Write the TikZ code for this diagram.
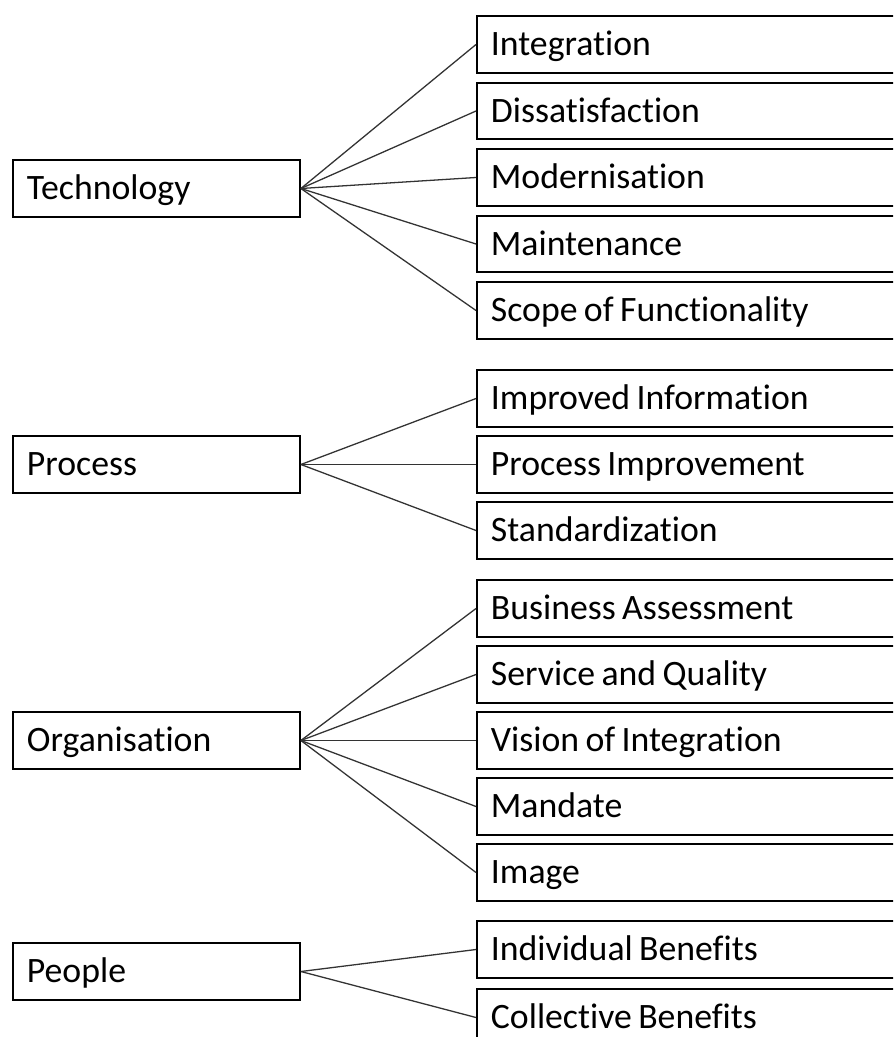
\documentclass[tikz,border=0pt]{standalone}
\usepackage{fontspec}
\setmainfont[Ligatures=NoCommon]{Carlito}
\newcommand\tightspace{\spaceskip=0.18em\relax}

\begin{document}
\begin{tikzpicture}[x=0.03cm, y=-0.03cm,
    every node/.style={font=\fontsize{30.5}{36}\selectfont, text height=0.66cm, text depth=0pt, execute at begin node=\tightspace},
    mainbox/.style={draw=black, line width=1.6pt, anchor=west, inner xsep=0.42cm, text width=7.77cm, align=left, minimum height=1.7cm},
    subbox/.style={mainbox, text width=14cm},
    link/.style={draw=black!80, line width=1.1pt}]
    \clip (0,0) rectangle (893,1037);
    % technology
    \node[mainbox] (tech) at (12,188.5) {Technology};
    \node[subbox] (integ) at (476,44.5) {Integration};
    \node[subbox] (dissat) at (476,111) {Dissatisfaction};
    \node[subbox] (modern) at (476,177.5) {Modernisation};
    \node[subbox] (maint) at (476,244) {Maintenance};
    \node[subbox] (scope) at (476,310.5) {Scope of Functionality};
    \foreach \n in {integ,dissat,modern,maint,scope}
        \draw[link] (tech.east) -- (\n.west);
    % process
    \node[mainbox] (proc) at (12,464.5) {Process};
    \node[subbox] (info) at (476,398.5) {Improved Information};
    \node[subbox] (improv) at (476,464.5) {Process Improvement};
    \node[subbox] (stand) at (476,530.5) {Standardization};
    \foreach \n in {info,improv,stand}
        \draw[link] (proc.east) -- (\n.west);
    % organisation
    \node[mainbox] (org) at (12,740.5) {Organisation};
    \node[subbox] (assess) at (476,608.5) {Business Assessment};
    \node[subbox] (service) at (476,674.5) {Service and Quality};
    \node[subbox] (vision) at (476,740.5) {Vision of Integration};
    \node[subbox] (mandate) at (476,806.5) {Mandate};
    \node[subbox] (image) at (476,872.5) {Image};
    \foreach \n in {assess,service,vision,mandate,image}
        \draw[link] (org.east) -- (\n.west);
    % people
    \node[mainbox] (people) at (12,971.5) {People};
    \node[subbox] (indiv) at (476,949.5) {Individual Benefits};
    \node[subbox] (collect) at (476,1017.5) {Collective Benefits};
    \foreach \n in {indiv,collect}
        \draw[link] (people.east) -- (\n.west);
\end{tikzpicture}
\end{document}
